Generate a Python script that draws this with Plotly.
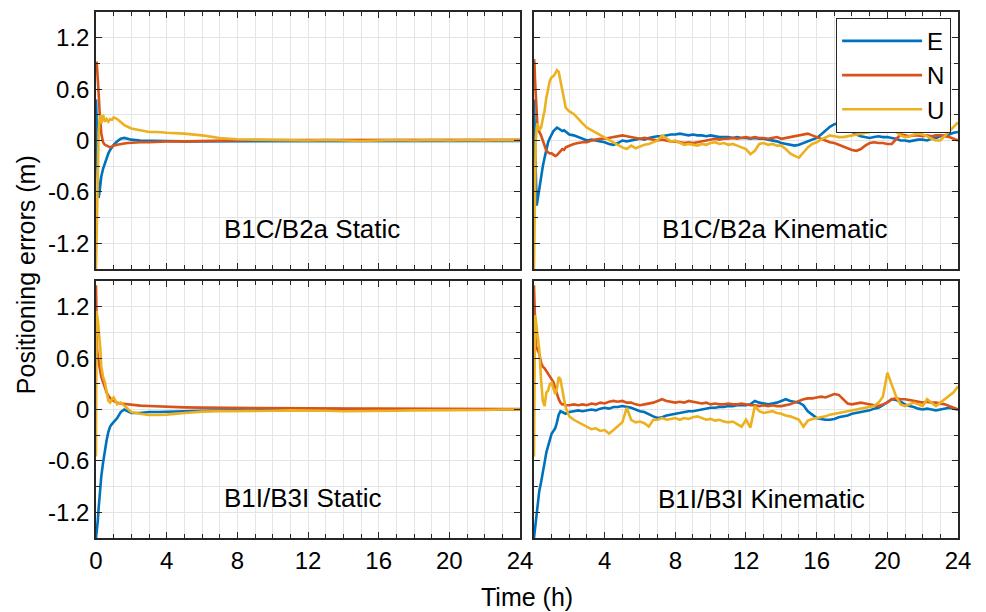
import plotly.graph_objects as go

# ---------------- data ----------------
SERIES = ["E", "N", "U"]
COLORS = ["#0072BD", "#D95319", "#EDB120"]
PANEL_TITLES = ["B1C/B2a Static", "B1C/B2a Kinematic", "B1I/B3I Static", "B1I/B3I Kinematic"]
X_TICKS_LEFT = [0, 4, 8, 12, 16, 20, 24]
X_TICKS_RIGHT = [4, 8, 12, 16, 20, 24]
Y_TICKS = [-1.2, -0.6, 0, 0.6, 1.2]
Y_TICKTEXT = ["-1.2", "-0.6", "0", "0.6", "1.2"]

# time axis for static panels (h)
t_static = [0, 0.03, 0.06, 0.1, 0.15, 0.2, 0.25, 0.3, 0.4, 0.5, 0.6, 0.7, 0.8, 0.9, 1.0,
            1.2, 1.4, 1.6, 1.8, 2.0, 2.5, 3, 3.5, 4, 5, 6, 7, 8, 9, 10, 11, 12, 13, 14,
            15, 16, 17, 18, 19, 20, 21, 22, 23, 24]

# time axis for kinematic panels (h)
t_kin = [0, 0.03, 0.06, 0.1, 0.15, 0.2, 0.3, 0.4, 0.5, 0.6, 0.7, 0.8, 0.9, 1.0, 1.1, 1.2,
         1.3, 1.4, 1.5, 1.6, 1.7, 1.8, 1.9,
         2.0, 2.25, 2.5, 2.75, 3.0, 3.25, 3.5, 3.75, 4.0, 4.25, 4.5, 4.75,
         5.0, 5.25, 5.5, 5.75, 6.0, 6.25, 6.5, 6.75, 7.0, 7.25, 7.5, 7.75,
         8.0, 8.25, 8.5, 8.75, 9.0, 9.25, 9.5, 9.75, 10.0, 10.25, 10.5, 10.75,
         11.0, 11.25, 11.5, 11.75, 12.0, 12.25, 12.5, 12.75, 13.0, 13.25, 13.5, 13.75,
         14.0, 14.25, 14.5, 14.75, 15.0, 15.25, 15.5, 15.75, 16.0, 16.25, 16.5, 16.75,
         17.0, 17.25, 17.5, 17.75, 18.0, 18.25, 18.5, 18.75, 19.0, 19.25, 19.5, 19.75,
         20.0, 20.25, 20.5, 20.75, 21.0, 21.25, 21.5, 21.75, 22.0, 22.25, 22.5, 22.75,
         23.0, 23.25, 23.5, 23.75, 24.0]

# B1C/B2a Static (m)
s1_E = [0.48, 0.3, -0.2, -0.55, -0.67, -0.6, -0.5, -0.42, -0.33, -0.26, -0.2, -0.15, -0.11, -0.08, -0.05,
        -0.01, 0.02, 0.03, 0.02, 0.01, 0.0, 0.0, -0.005, -0.005, -0.01, -0.01, -0.01, -0.01, -0.012, -0.01,
        -0.012, -0.01, -0.012, -0.01, -0.01, -0.01, -0.008, -0.01, -0.008, -0.008, -0.006, -0.006, -0.006, -0.005]
s1_N = [0.9, 0.92, 0.85, 0.75, 0.55, 0.35, 0.2, 0.08, -0.02, -0.05, -0.06, -0.07, -0.08, -0.07, -0.06,
        -0.05, -0.04, -0.035, -0.03, -0.025, -0.02, -0.02, -0.015, -0.012, -0.01, -0.005, 0.0, 0.0, 0.005, 0.005,
        0.005, 0.008, 0.008, 0.008, 0.008, 0.008, 0.008, 0.008, 0.008, 0.008, 0.008, 0.008, 0.008, 0.008]
s1_U = [-1.5, -1.2, -0.8, -0.3, 0.1, 0.25, 0.3, 0.2, 0.3, 0.22, 0.25, 0.22, 0.25, 0.24, 0.27,
        0.25, 0.21, 0.18, 0.16, 0.14, 0.12, 0.1, 0.1, 0.09, 0.08, 0.06, 0.03, 0.015, 0.01, 0.005,
        0.0, 0.0, 0.005, 0.0, -0.005, 0.0, 0.005, 0.0, 0.005, 0.0, 0.005, 0.0, 0.005, 0.0]

# B1I/B3I Static (m)
s3_E = [-1.5, -1.45, -1.4, -1.3, -1.15, -1.0, -0.9, -0.78, -0.62, -0.48, -0.36, -0.26, -0.2, -0.17, -0.15,
        -0.1, -0.03, 0.0, -0.02, -0.04, -0.04, -0.03, -0.03, -0.025, -0.02, -0.015, -0.01, -0.008, -0.005, -0.005,
        -0.005, -0.005, -0.005, -0.005, -0.004, -0.004, -0.003, -0.003, -0.002, -0.002, -0.001, 0.0, 0.0, 0.0]
s3_N = [1.45, 1.0, 0.7, 0.62, 0.55, 0.48, 0.42, 0.38, 0.32, 0.25, 0.2, 0.16, 0.13, 0.11, 0.1,
        0.08, 0.07, 0.065, 0.06, 0.055, 0.045, 0.04, 0.035, 0.03, 0.025, 0.022, 0.02, 0.018, 0.015, 0.015,
        0.012, 0.012, 0.012, 0.01, 0.01, 0.01, 0.01, 0.008, 0.008, 0.008, 0.006, 0.006, 0.005, 0.005]
s3_U = [-0.55, 1.15, 1.1, 1.05, 0.95, 0.88, 0.7, 0.5, 0.38, 0.32, 0.22, 0.1, 0.08, 0.12, 0.14,
        0.06, 0.08, 0.04, 0.0, -0.03, -0.05, -0.065, -0.065, -0.06, -0.04, -0.025, -0.02, -0.02, -0.015, -0.015,
        -0.01, -0.01, -0.015, -0.02, -0.02, -0.02, -0.015, -0.01, -0.01, -0.01, -0.005, -0.005, 0.0, 0.0]

# B1C/B2a Kinematic (m)
k2_E = [0.48, 0.2, -0.3, -0.6, -0.76, -0.7, -0.55, -0.4, -0.3, -0.2, -0.1, -0.02, 0.03, 0.08, 0.11, 0.13,
        0.15, 0.14, 0.12, 0.11, 0.12, 0.1, 0.08,
        0.07, 0.06, 0.04, 0.02,
        0.00, 0.01, 0.00, -0.01,
        -0.02, -0.04, -0.05, -0.03,
        0.00, -0.01, 0.00, 0.01,
        0.02, 0.01, 0.03, 0.04,
        0.05, 0.05, 0.06, 0.07,
        0.07, 0.08, 0.07, 0.06,
        0.07, 0.06, 0.06, 0.05,
        0.06, 0.05, 0.04, 0.04,
        0.04, 0.03, 0.04, 0.03,
        0.03, 0.02, 0.03, 0.02,
        0.02, 0.01, 0.00, -0.01,
        -0.03, -0.04, -0.05, -0.06,
        -0.05, -0.03, -0.01, 0.01,
        0.03, 0.07, 0.12, 0.16,
        0.19, 0.20, 0.18, 0.14,
        0.10, 0.07, 0.05, 0.04,
        0.03, 0.04, 0.05, 0.04,
        0.04, 0.03, 0.02, 0.00,
        0.00, -0.01, 0.00, 0.01,
        0.01, 0.00, 0.02, 0.03,
        0.05, 0.06, 0.07, 0.09,
        0.10]
k2_N = [0.95, 0.9, 0.7, 0.5, 0.3, 0.15, 0.1, 0.06, 0.0, -0.07, -0.12, -0.14, -0.15, -0.15, -0.17, -0.18,
        -0.17, -0.15, -0.12, -0.1, -0.11, -0.08, -0.07,
        -0.06, -0.04, -0.03, -0.02,
        -0.02, 0.00, 0.01, 0.02,
        0.02, 0.03, 0.04, 0.05,
        0.06, 0.05, 0.04, 0.03,
        0.02, 0.03, 0.02, 0.01,
        0.00, 0.01, 0.00, -0.01,
        -0.01, -0.02, -0.03, -0.02,
        -0.03, -0.02, -0.01, 0.00,
        0.01, 0.02, 0.01, 0.02,
        0.02, 0.03, 0.02, 0.03,
        0.04, 0.03, 0.04, 0.03,
        0.03, 0.02, 0.03, 0.04,
        0.02, 0.03, 0.04, 0.05,
        0.06, 0.07, 0.08, 0.06,
        0.04, 0.02, 0.00, -0.02,
        -0.03, -0.05, -0.07, -0.09,
        -0.11, -0.12, -0.10, -0.06,
        -0.03, -0.02, -0.03, -0.03,
        -0.04, -0.04, 0.02, 0.07,
        0.06, 0.05, 0.06, 0.06,
        0.05, 0.06, 0.05, 0.06,
        0.06, 0.05, 0.04, 0.02,
        0.00]
k2_U = [-1.5, -0.9, -0.3, 0.0, 0.15, 0.2, 0.12, 0.15, 0.25, 0.35, 0.5, 0.62, 0.7, 0.74, 0.75, 0.78,
        0.82, 0.8, 0.7, 0.58, 0.47, 0.38, 0.36,
        0.34, 0.31, 0.25, 0.2,
        0.15, 0.12, 0.09, 0.06,
        0.04, 0.01, -0.03, -0.06,
        -0.08, -0.1, -0.06, -0.09,
        -0.07, -0.05, -0.04, -0.02,
        0.0, 0.06, 0.02, -0.01,
        0.0, -0.03, -0.05, -0.04,
        -0.05, -0.06, -0.04, -0.05,
        -0.03, -0.02, -0.04, -0.03,
        -0.05, -0.04, -0.06, -0.08,
        -0.1, -0.16, -0.12, -0.04,
        -0.03, -0.05, -0.04, -0.06,
        -0.06, -0.1, -0.15, -0.18,
        -0.2, -0.14, -0.08, -0.04,
        -0.02, 0.01, 0.04, 0.06,
        0.05, 0.04, 0.04, 0.05,
        0.06, 0.07, 0.08, 0.09,
        0.1, 0.12, 0.14, 0.16,
        0.2, 0.21, 0.1, 0.06,
        0.04, 0.05, 0.07, 0.08,
        0.07, 0.05, 0.02, 0.0,
        0.0, 0.05, 0.1, 0.15,
        0.21]

# B1I/B3I Kinematic (m)
k4_E = [-1.5, -1.45, -1.4, -1.3, -1.2, -1.1, -0.95, -0.85, -0.75, -0.62, -0.5, -0.42, -0.35, -0.28, -0.25, -0.22,
        -0.15, -0.06, -0.02, -0.03, -0.04, -0.05, -0.04,
        -0.03, -0.02, -0.01, -0.02,
        -0.01, 0.0, -0.01, 0.01,
        0.02, 0.01, 0.03, 0.03,
        0.04, 0.03, 0.02, 0.0,
        -0.02, -0.03, -0.06, -0.08,
        -0.1, -0.09, -0.07, -0.06,
        -0.05, -0.04, -0.03, -0.02,
        -0.02, -0.01, 0.0, 0.01,
        0.02, 0.02, 0.03, 0.03,
        0.04, 0.04, 0.05, 0.05,
        0.05, 0.06, 0.1, 0.08,
        0.07, 0.06, 0.07, 0.08,
        0.1, 0.12, 0.1, 0.09,
        0.08, 0.05, -0.02, -0.06,
        -0.1, -0.11, -0.12, -0.12,
        -0.11, -0.09, -0.08, -0.07,
        -0.05, -0.04, -0.03, -0.02,
        -0.01, 0.01, 0.02, 0.05,
        0.09, 0.12, 0.11, 0.09,
        0.06, 0.04, 0.03, 0.01,
        0.0, 0.01, 0.0, -0.01,
        0.0, 0.01, 0.02, 0.01,
        0.0]
k4_N = [1.45, 1.1, 0.85, 0.75, 0.72, 0.7, 0.65, 0.55, 0.5, 0.48, 0.45, 0.42, 0.38, 0.35, 0.32, 0.25,
        0.18, 0.12, 0.08, 0.06, 0.06, 0.05, 0.05,
        0.05, 0.06, 0.05, 0.06,
        0.05, 0.07, 0.06, 0.08,
        0.07, 0.09, 0.1, 0.09,
        0.1, 0.08, 0.08, 0.06,
        0.05, 0.06, 0.07, 0.08,
        0.1, 0.12, 0.1, 0.09,
        0.08, 0.09, 0.08, 0.1,
        0.09, 0.08, 0.07, 0.08,
        0.06, 0.07, 0.06, 0.06,
        0.07, 0.06, 0.06, 0.07,
        0.06, 0.05, 0.05, 0.04,
        0.05, 0.04, 0.05, 0.04,
        0.04, 0.05, 0.06, 0.08,
        0.1, 0.12, 0.13, 0.13,
        0.14, 0.15, 0.14, 0.16,
        0.18, 0.17, 0.12, 0.07,
        0.06, 0.07, 0.08, 0.07,
        0.06, 0.05, 0.04, 0.06,
        0.08, 0.12, 0.13, 0.12,
        0.12, 0.11, 0.1, 0.09,
        0.08, 0.09, 0.08, 0.08,
        0.07, 0.06, 0.04, 0.02,
        0.0]
k4_U = [-0.55, 0.5, 1.1, 1.05, 0.95, 0.9, 0.7, 0.35, 0.1, 0.04, 0.2, 0.22, 0.3, 0.31, 0.25, 0.18,
        0.25, 0.38, 0.35, 0.22, 0.12, 0.02, -0.04,
        -0.08, -0.12, -0.15, -0.18,
        -0.2, -0.23, -0.22, -0.25,
        -0.24, -0.28, -0.24, -0.2,
        -0.15, 0.02, -0.12, -0.15,
        -0.14, -0.16, -0.2, -0.12,
        -0.12, -0.1, -0.12, -0.11,
        -0.1, -0.12, -0.1, -0.11,
        -0.09, -0.08, -0.1, -0.12,
        -0.11, -0.13, -0.12, -0.14,
        -0.15, -0.14, -0.17, -0.2,
        -0.12, -0.21, 0.04, -0.02,
        -0.04, -0.03, -0.02, -0.04,
        -0.05, -0.07, -0.08, -0.1,
        -0.12, -0.2, -0.13, -0.11,
        -0.1, -0.09, -0.08, -0.06,
        -0.05, -0.04, -0.03, -0.02,
        -0.01, 0.0, 0.01, 0.02,
        0.03, 0.04, 0.08, 0.15,
        0.43, 0.3, 0.15, 0.06,
        0.04, 0.06, 0.08, 0.06,
        0.04, 0.12, 0.08, 0.04,
        0.08, 0.12, 0.15, 0.2,
        0.27]

panels = [
    (t_static, [s1_E, s1_N, s1_U]),
    (t_kin, [k2_E, k2_N, k2_U]),
    (t_static, [s3_E, s3_N, s3_U]),
    (t_kin, [k4_E, k4_N, k4_U]),
]

# ---------------- figure ----------------
FONT = "Liberation Sans, Arial, Helvetica, sans-serif"
AX = "#262626"
GRID = "#e4e4e4"

fig = go.Figure()
for p, (tt, vals) in enumerate(panels):
    suffix = "" if p == 0 else str(p + 1)
    for s, (name, col, v) in enumerate(zip(SERIES, COLORS, vals)):
        assert len(v) == len(tt), (p, name, len(v), len(tt))
        fig.add_trace(go.Scatter(
            x=tt, y=v, mode="lines", name=name,
            line=dict(color=col, width=2.6),
            xaxis="x" + suffix, yaxis="y" + suffix,
            showlegend=(p == 1), legendrank=s,
        ))

xdom = [[0, 0.4919], [0.5081, 1.0], [0, 0.4919], [0.5081, 1.0]]
ydom = [[0.5114, 1.0], [0.5114, 1.0], [0, 0.4886], [0, 0.4886]]

layout = dict(
    width=986, height=612,
    margin=dict(l=96, r=28, t=10, b=74),
    paper_bgcolor="white", plot_bgcolor="white",
    font=dict(family=FONT, size=24, color="#000000"),
    legend=dict(
        x=0.992, y=0.989, xanchor="right", yanchor="top",
        bgcolor="white", bordercolor=AX, borderwidth=1,
        font=dict(family=FONT, size=24, color="#000000"),
        itemwidth=80, tracegroupgap=0,
    ),
)
for p in range(4):
    suffix = "" if p == 0 else str(p + 1)
    anchor = "y" + suffix
    xt = X_TICKS_LEFT if p % 2 == 0 else X_TICKS_RIGHT
    xa = dict(
        domain=xdom[p], range=[0, 24], anchor=anchor,
        tickmode="array", tickvals=xt, ticktext=[str(v) for v in xt],
        showticklabels=(p >= 2),
        ticks="inside", ticklen=6, tickwidth=1, tickcolor=AX,
        showline=True, linecolor=AX, linewidth=1.5, mirror="ticks",
        showgrid=True, gridcolor=GRID, gridwidth=1, zeroline=False,
        minor=dict(dtick=1, tick0=0, ticks="inside", ticklen=4, tickcolor=AX,
                   showgrid=True, gridcolor=GRID, gridwidth=1),
        tickfont=dict(size=24, color="#000000"),
    )
    ya = dict(
        domain=ydom[p], range=[-1.5, 1.5], anchor="x" + suffix,
        tickmode="array", tickvals=Y_TICKS, ticktext=Y_TICKTEXT,
        showticklabels=(p % 2 == 0),
        ticks="inside", ticklen=6, tickwidth=1, tickcolor=AX,
        showline=True, linecolor=AX, linewidth=1.5, mirror="ticks",
        showgrid=True, gridcolor=GRID, gridwidth=1, zeroline=False,
        minor=dict(dtick=0.3, tick0=0, ticks="inside", ticklen=4, tickcolor=AX,
                   showgrid=True, gridcolor=GRID, gridwidth=1),
        tickfont=dict(size=24, color="#000000"),
    )
    layout["xaxis" + suffix] = xa
    layout["yaxis" + suffix] = ya

ann_pos = [(12.2, -1.03), (13.6, -1.03), (11.7, -1.03), (12.9, -1.05)]
annotations = []
for p, (title, (ax_, ay_)) in enumerate(zip(PANEL_TITLES, ann_pos)):
    suffix = "" if p == 0 else str(p + 1)
    annotations.append(dict(
        text=title, x=ax_, y=ay_, xref="x" + suffix, yref="y" + suffix,
        showarrow=False, font=dict(family=FONT, size=26, color="#000000"),
        xanchor="center", yanchor="middle",
    ))
annotations.append(dict(
    text="Positioning errors (m)", x=-0.081, y=0.5, xref="paper", yref="paper",
    textangle=-90, showarrow=False, font=dict(family=FONT, size=25, color="#000000"),
    xanchor="center", yanchor="middle",
))
annotations.append(dict(
    text="Time (h)", x=0.5, y=-0.112, xref="paper", yref="paper",
    showarrow=False, font=dict(family=FONT, size=25, color="#000000"),
    xanchor="center", yanchor="middle",
))
layout["annotations"] = annotations

fig.update_layout(**layout)
fig.write_html("out.html", config={"displayModeBar": False},
               post_script="document.body.style.margin='0';document.body.style.overflow='hidden';")
